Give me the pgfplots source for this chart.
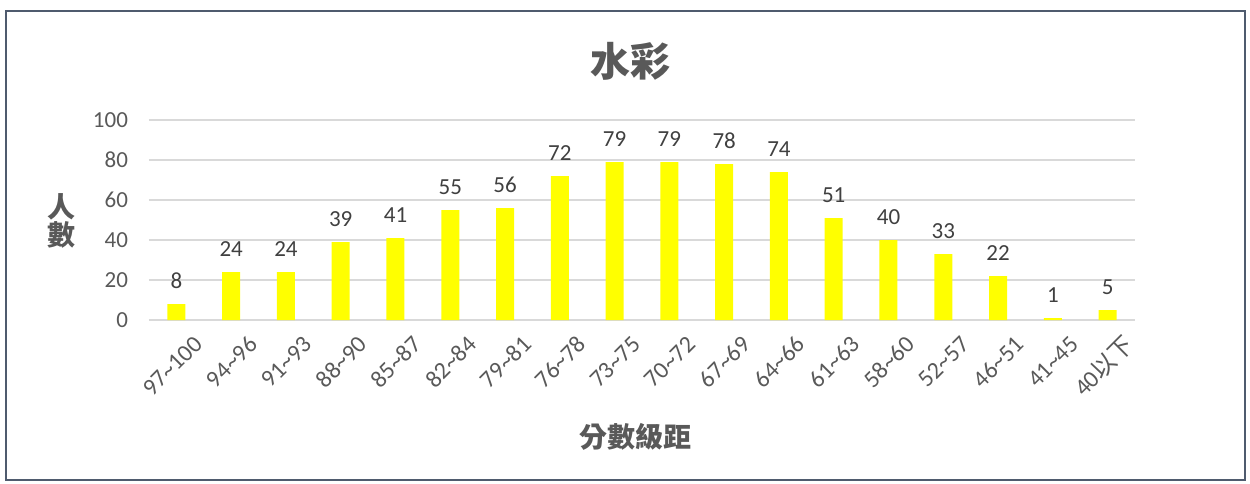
\documentclass[border=0pt]{standalone}
\usepackage{pgfplots}
\pgfplotsset{compat=1.18}
\usepackage{fontspec}
\setmainfont{Carlito}
\newfontfamily\cjk{Noto Sans CJK TC}
\definecolor{txt}{HTML}{595959}
\definecolor{lbl}{HTML}{404040}
\definecolor{gridc}{HTML}{D9D9D9}
\definecolor{barc}{HTML}{FFFF00}
\definecolor{frame}{HTML}{4F5B6E}
\begin{document}
\begin{tikzpicture}
\useasboundingbox (-74.5pt,-81.5pt) rectangle (550.5pt,160pt);
\draw[frame, line width=1pt] (-71.5pt,-80pt) rectangle (548pt,154.5pt);
\begin{axis}[
    scale only axis,
    width=493pt, height=100pt,
    xmin=-0.5, xmax=17.5,
    ymin=0, ymax=100,
    ytick={0,20,40,60,80,100},
    xtick={0,...,17},
    xticklabels={97\textasciitilde100,94\textasciitilde96,91\textasciitilde93,88\textasciitilde90,85\textasciitilde87,82\textasciitilde84,79\textasciitilde81,76\textasciitilde78,73\textasciitilde75,70\textasciitilde72,67\textasciitilde69,64\textasciitilde66,61\textasciitilde63,58\textasciitilde60,52\textasciitilde57,46\textasciitilde51,41\textasciitilde45,40{\cjk 以下}},
    /pgf/number format/assume math mode=true,
    ymajorgrids=true,
    grid style={gridc, line width=0.75pt},
    axis line style={draw=none},
    major tick length=0pt,
    tick label style={font=\fontsize{11.5}{12}\selectfont, text=txt},
    yticklabel style={anchor=east, xshift=-7pt},
    xticklabel style={rotate=45, anchor=east, font=\fontsize{12}{12}\selectfont, xshift=4pt, yshift=-15pt},
    ybar, bar width=9pt,
    nodes near coords,
    every node near coord/.append style={font=\fontsize{11.5}{12}\selectfont, text=lbl, yshift=4pt},
]
\addplot[fill=barc, draw=none] coordinates {
(0,8)(1,24)(2,24)(3,39)(4,41)(5,55)(6,56)(7,72)(8,79)(9,79)(10,78)(11,74)(12,51)(13,40)(14,33)(15,22)(16,1)(17,5)
};
\end{axis}
\node[text=txt, font=\cjk\bfseries\fontsize{20}{21}\selectfont] at (240.5pt,129.5pt) {水彩};
\node[text=txt, font=\cjk\bfseries\fontsize{14}{15}\selectfont, align=center, inner sep=0pt] at (-43.5pt,49.5pt) {人\\[-1pt]數};
\node[text=txt, font=\cjk\bfseries\fontsize{14}{15}\selectfont] at (243pt,-58.5pt) {分數級距};
\end{tikzpicture}
\end{document}
